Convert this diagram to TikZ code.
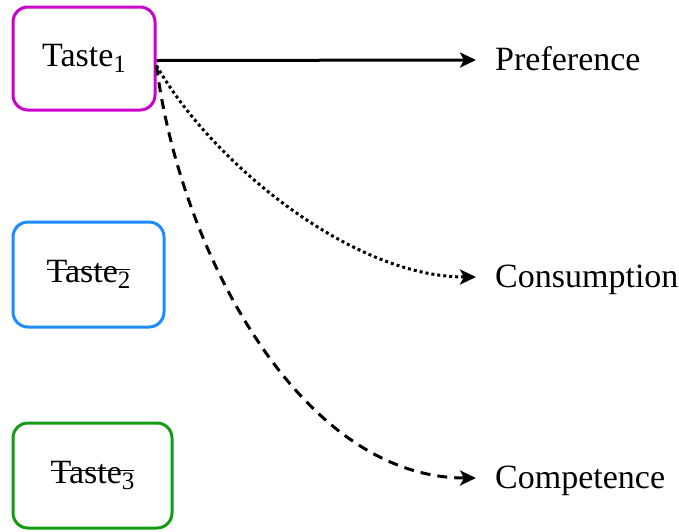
\documentclass[tikz,border=0pt]{standalone}
\usepackage{fontspec}
\setmainfont{Liberation Serif}
\usetikzlibrary{arrows.meta}
\definecolor{boxmag}{RGB}{204,0,204}
\definecolor{boxblue}{RGB}{30,140,255}
\definecolor{boxgreen}{RGB}{20,155,20}
\newcommand{\mystrike}[1]{\sbox0{#1}\makebox[0pt][l]{\usebox0}\rule[0.36em]{\wd0}{1.3pt}}
\newcommand{\mysub}[1]{\raisebox{-6pt}{\fontsize{25}{30}\selectfont #1}}
\begin{document}
\begin{tikzpicture}[x=1pt,y=-1pt,
  tastebox/.style={draw, line width=3pt, rounded corners=15pt, fill=white,
    inner sep=0pt, font=\fontsize{34}{40}\selectfont},
  lbl/.style={anchor=west, inner ysep=0pt, inner xsep=19pt, text height=20pt, text depth=0pt,
    font=\fontsize{34}{40}\selectfont},
  conn/.style={line width=3pt, -{Stealth[length=16pt,width=15pt,inset=4pt]}}
]
\useasboundingbox (0,0) rectangle (679,531);
\node[tastebox, draw=boxmag, minimum width=142pt, minimum height=103pt] (t1) at (84,58.5) {Taste\mysub{1}};
\node[tastebox, draw=boxblue, minimum width=151pt, minimum height=105pt] (t2) at (88.5,274.5) {\mystrike{Taste\mysub{2}}};
\node[tastebox, draw=boxgreen, minimum width=159pt, minimum height=105pt] (t3) at (92.5,475.5) {\mystrike{Taste\mysub{3}}};
\node[lbl] (pref) at (476,60) {Preference};
\node[lbl] (cons) at (476,277) {Consumption};
\node[lbl] (comp) at (476,478) {Competence};
\coordinate (s1) at ([yshift=-2pt]t1.east);
\coordinate (s2) at ([yshift=-7pt]t1.east);
\draw[conn] (s1) -- (pref.west);
\draw[conn, dash pattern=on 3pt off 3pt] (s2) .. controls (210,160) and (350,277) .. (cons.west);
\draw[conn, dash pattern=on 10pt off 7pt] (s2) .. controls (180,250) and (300,478) .. (comp.west);
\end{tikzpicture}
\end{document}
